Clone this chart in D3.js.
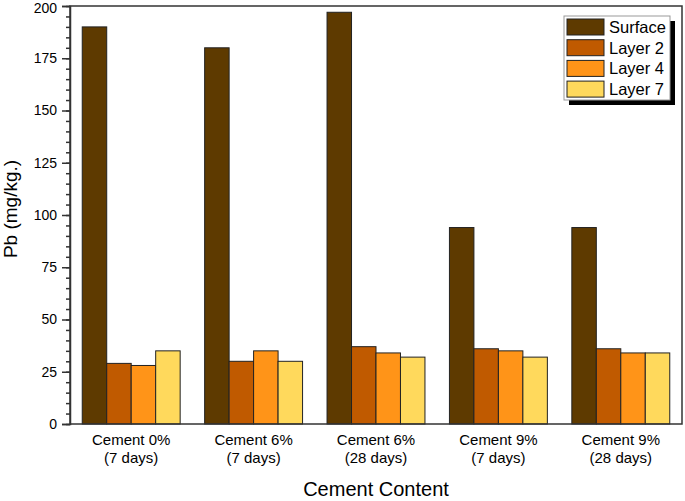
<!DOCTYPE html>
<html><head><meta charset="utf-8">
<script src="https://cdn.jsdelivr.net/npm/d3@7"></script>
<style>body{margin:0;background:#fff;} svg{display:block;font-family:"Liberation Sans",Arial,sans-serif;}</style>
</head><body>
<svg id="c" width="685" height="501"></svg>
<script>
const categories = [["Cement 0%","(7 days)"],["Cement 6%","(7 days)"],["Cement 6%","(28 days)"],["Cement 9%","(7 days)"],["Cement 9%","(28 days)"]];
const seriesNames = ["Surface","Layer 2","Layer 4","Layer 7"];
const surface = [190,180,197,94,94];
const layer2 = [29,30,37,36,36];
const layer4 = [28,35,34,35,34];
const layer7 = [35,30,32,32,34];
const seriesValues = [surface, layer2, layer4, layer7];
const colors = ["#5e3a00","#c05a00","#ff9418","#ffd95c"];
const yTicks = [0,25,50,75,100,125,150,175,200];

const svg = d3.select("#c");
const L=70, R=682, T=6, B=424;
const x0 = d3.scaleBand().domain(d3.range(categories.length)).range([L,R]).paddingInner(0.2).paddingOuter(0.1);
const x1 = d3.scaleBand().domain(d3.range(seriesNames.length)).range([0,x0.bandwidth()]);
const y = d3.scaleLinear().domain([0,200]).range([B,T]);

seriesValues.forEach((vals,si)=>{
  svg.append("g").selectAll("rect").data(vals).join("rect")
    .attr("x",(d,i)=>x0(i)+x1(si))
    .attr("y",d=>y(d))
    .attr("width",x1.bandwidth())
    .attr("height",d=>B-y(d))
    .attr("fill",colors[si]).attr("stroke","#222").attr("stroke-width",1);
});

svg.append("rect").attr("x",L).attr("y",T).attr("width",R-L).attr("height",B-T)
  .attr("fill","none").attr("stroke","#333").attr("stroke-width",1.5);

const yMinor = d3.axisLeft(y).tickValues(d3.range(0,201,5)).tickSize(4).tickFormat("");
svg.append("g").attr("transform",`translate(${L},0)`).call(yMinor)
  .call(g=>g.select(".domain").remove())
  .call(g=>g.selectAll("line").attr("stroke","#333").attr("stroke-width",1.5));
const yAxis = d3.axisLeft(y).tickValues(yTicks).tickSize(8).tickPadding(5);
svg.append("g").attr("transform",`translate(${L},0)`).call(yAxis)
  .call(g=>g.select(".domain").attr("stroke","#333").attr("stroke-width",1.5))
  .call(g=>g.selectAll("line").attr("stroke","#333").attr("stroke-width",1.5))
  .call(g=>g.selectAll("text").attr("font-size","14px").attr("fill","#000").attr("font-family","Liberation Sans, Arial, sans-serif"))
  .call(g=>g.selectAll(".tick").filter(d=>d===200).select("text").attr("dy","0.45em"));

const xl = svg.append("g");
categories.forEach((c,i)=>{
  const cx = x0(i)+x0.bandwidth()/2;
  const t = xl.append("text").attr("x",cx).attr("text-anchor","middle").attr("font-size","15px");
  t.append("tspan").attr("x",cx).attr("y",445).text(c[0]);
  t.append("tspan").attr("x",cx).attr("y",463).text(c[1]);
});

svg.append("text").attr("x",(L+R)/2).attr("y",496).attr("text-anchor","middle").attr("font-size","20px").text("Cement Content");
svg.append("text").attr("transform","translate(17,209) rotate(-90)").attr("text-anchor","middle").attr("font-size","19px").text("Pb (mg/kg.)");

const lg = svg.append("g");
const lx=564, ly=16, lw=106, lh=84;
lg.append("rect").attr("x",lx+5).attr("y",ly+5).attr("width",lw).attr("height",lh).attr("fill","#000");
lg.append("rect").attr("x",lx).attr("y",ly).attr("width",lw).attr("height",lh).attr("fill","#fff").attr("stroke","#999").attr("stroke-width",1);
seriesNames.forEach((n,i)=>{
  const yy = ly+3+i*20.7;
  lg.append("rect").attr("x",lx+3).attr("y",yy).attr("width",37).attr("height",16).attr("fill",colors[i]).attr("stroke","#222").attr("stroke-width",1);
  lg.append("text").attr("x",lx+45).attr("y",yy+14).attr("font-size","16.5px").text(n);
});
</script>
</body></html>
